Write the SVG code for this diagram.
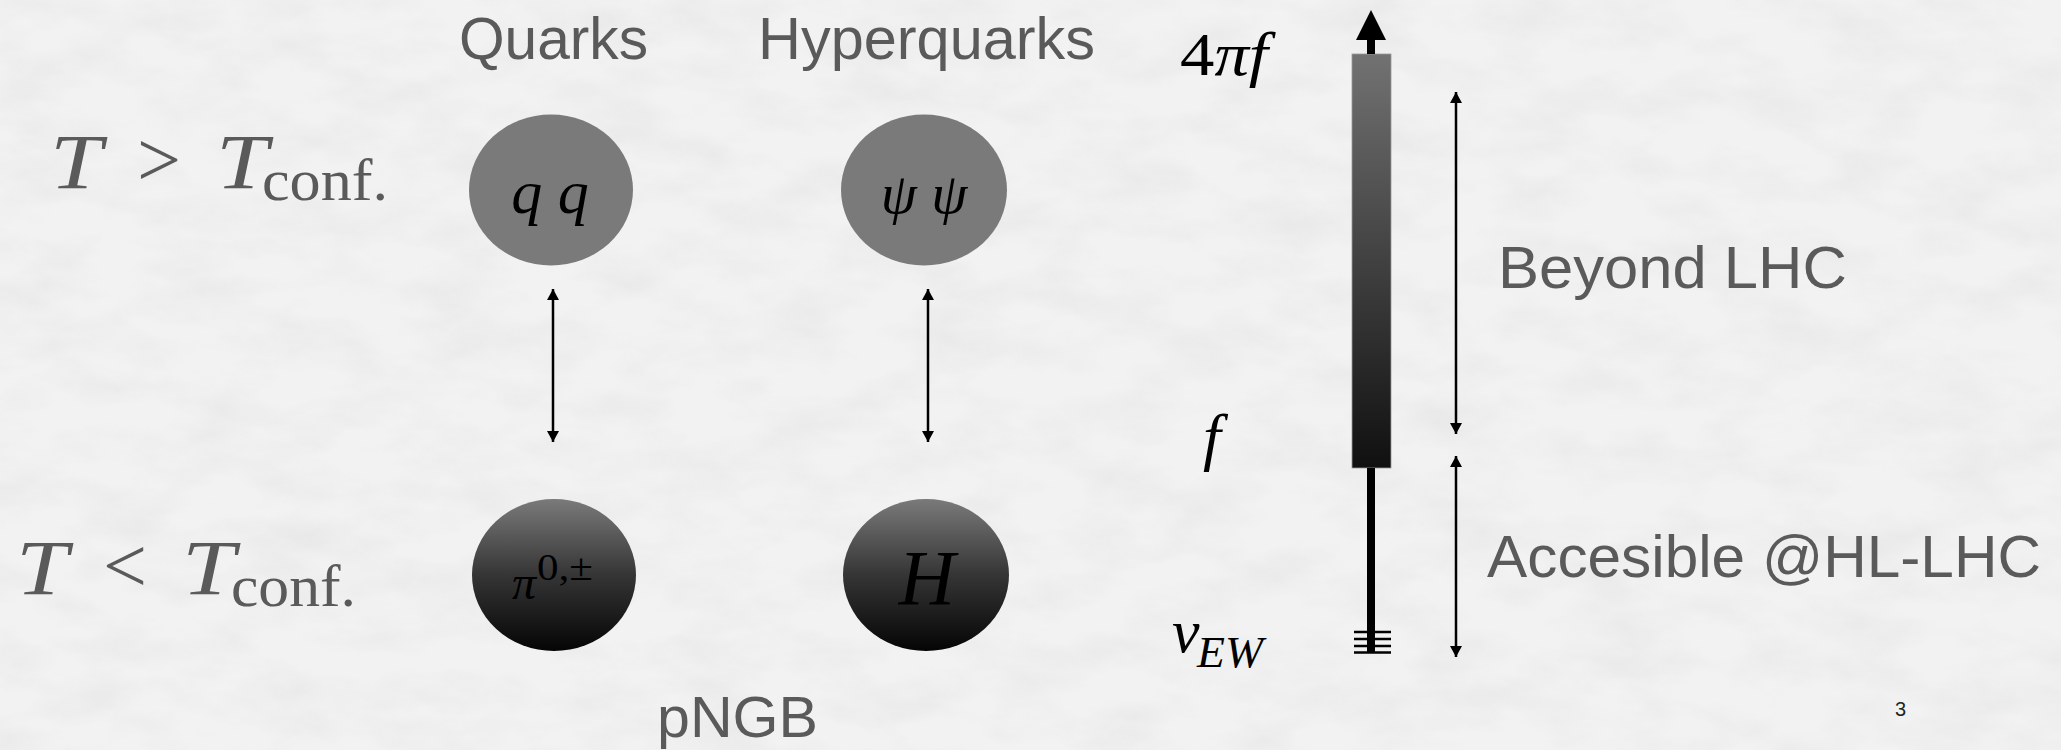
<svg xmlns="http://www.w3.org/2000/svg" width="2061" height="750" viewBox="0 0 2061 750">
<style>
.sans{font-family:"Liberation Sans",Arial,sans-serif;fill:#5a5a5a;}
.cm{font-family:"Liberation Serif","Times New Roman",serif;fill:#5a5a5a;}
.math{font-family:"Liberation Serif","Times New Roman",serif;fill:#000;font-style:italic;}
.rm{font-style:normal;}
.conn{stroke:#000;stroke-width:2.5;fill:none;marker-start:url(#ah);marker-end:url(#ah);}
.tick{stroke:#000;stroke-width:2.5;}
</style>
<defs>
<marker id="ah" viewBox="0 -6 11 12" refX="11" refY="0" markerWidth="11" markerHeight="12" markerUnits="userSpaceOnUse" orient="auto-start-reverse">
<path d="M0,-6 L11,0 L0,6 Z" fill="#000"/>
</marker>
<linearGradient id="dark" x1="0" y1="0" x2="0" y2="1">
<stop offset="0" stop-color="#7a7a7a"/>
<stop offset="0.5" stop-color="#353535"/>
<stop offset="1" stop-color="#050505"/>
</linearGradient>
<linearGradient id="bar" x1="0" y1="0" x2="0" y2="1">
<stop offset="0" stop-color="#727272"/>
<stop offset="1" stop-color="#101010"/>
</linearGradient>
<filter id="tex" x="0" y="0" width="100%" height="100%">
<feTurbulence type="fractalNoise" baseFrequency="0.012 0.025" numOctaves="4" seed="7"/>
<feColorMatrix type="matrix" values="0 0 0 0 0.45  0 0 0 0 0.45  0 0 0 0 0.45  0.9 0 0 0 -0.35"/>
</filter>
</defs>
<rect x="0" y="0" width="2061" height="750" fill="#f2f2f2"/>
<rect x="0" y="0" width="2061" height="750" filter="url(#tex)" opacity="0.3"/>

<g id="headers">
<text class="sans" x="459" y="59" font-size="59" textLength="189" lengthAdjust="spacingAndGlyphs">Quarks</text>
<text class="sans" x="758" y="59" font-size="59" textLength="337" lengthAdjust="spacingAndGlyphs">Hyperquarks</text>
</g>

<g id="label-high">
<text class="cm" x="50" y="188" font-size="78" font-style="italic" textLength="52" lengthAdjust="spacingAndGlyphs">T</text>
<text class="cm" x="159" y="186" font-size="78" text-anchor="middle">&gt;</text>
<text class="cm" x="216" y="188" font-size="78" font-style="italic" textLength="52" lengthAdjust="spacingAndGlyphs">T</text>
<text class="cm" x="262" y="200" font-size="60" textLength="126" lengthAdjust="spacingAndGlyphs">conf.</text>
</g>
<g id="label-low">
<text class="cm" x="16" y="594" font-size="78" font-style="italic" textLength="52" lengthAdjust="spacingAndGlyphs">T</text>
<text class="cm" x="125" y="592" font-size="78" text-anchor="middle">&lt;</text>
<text class="cm" x="182" y="594" font-size="78" font-style="italic" textLength="53" lengthAdjust="spacingAndGlyphs">T</text>
<text class="cm" x="231" y="606" font-size="60" textLength="125" lengthAdjust="spacingAndGlyphs">conf.</text>
</g>

<g id="node-qq">
<ellipse cx="551" cy="190" rx="82" ry="75.5" fill="#7a7a7a"/>
<text class="math" x="550" y="213" font-size="62" text-anchor="middle">q q</text>
</g>
<g id="node-psi">
<ellipse cx="924" cy="190" rx="83" ry="75.5" fill="#7a7a7a"/>
<text class="math" x="924" y="213" font-size="58" text-anchor="middle">ψ ψ</text>
</g>
<g id="node-pi">
<ellipse cx="554" cy="575" rx="82" ry="76" fill="url(#dark)"/>
<text class="math" x="512" y="599" font-size="48">π</text>
<text class="math rm" x="537" y="580" font-size="38" textLength="56" lengthAdjust="spacingAndGlyphs">0,±</text>
</g>
<g id="node-H">
<ellipse cx="926" cy="575" rx="83" ry="76" fill="url(#dark)"/>
<text class="math" x="927" y="604" font-size="78" text-anchor="middle">H</text>
</g>
<g id="label-pngb">
<text class="sans" x="657" y="737" font-size="58" textLength="161" lengthAdjust="spacingAndGlyphs">pNGB</text>
</g>

<g id="scale">
<rect x="1352" y="54" width="39" height="414" fill="url(#bar)" stroke="#999" stroke-width="0.8"/>
<rect x="1367" y="38" width="8" height="16" fill="#000"/>
<polygon points="1356,40 1386,40 1371,10" fill="#000"/>
<rect x="1367" y="468" width="8" height="185" fill="#000"/>
<line class="tick" x1="1354" y1="632" x2="1391" y2="632"/>
<line class="tick" x1="1354" y1="639" x2="1391" y2="639"/>
<line class="tick" x1="1354" y1="646" x2="1391" y2="646"/>
<line class="tick" x1="1354" y1="652.5" x2="1391" y2="652.5"/>
<text class="math" x="1180" y="75" font-size="62" textLength="88" lengthAdjust="spacingAndGlyphs"><tspan class="rm">4</tspan>πf</text>
<text class="math" x="1203" y="458" font-size="64">f</text>
<text class="math" x="1172" y="652" font-size="62">v</text>
<text class="math" x="1197" y="667" font-size="44" textLength="66" lengthAdjust="spacingAndGlyphs">EW</text>
</g>

<g id="ranges">
<text class="sans" x="1498" y="288" font-size="60" textLength="349" lengthAdjust="spacingAndGlyphs">Beyond LHC</text>
<text class="sans" x="1487" y="577" font-size="59" textLength="554" lengthAdjust="spacingAndGlyphs">Accesible @HL-LHC</text>
<text x="1895" y="716" font-size="20" font-family="Liberation Sans, Arial, sans-serif" fill="#222">3</text>
</g>

<g id="connectors">
<line class="conn" x1="553" y1="289" x2="553" y2="442"/>
<line class="conn" x1="928" y1="289" x2="928" y2="442"/>
<line class="conn" x1="1456" y1="92" x2="1456" y2="434"/>
<line class="conn" x1="1456" y1="456" x2="1456" y2="657"/>
</g>
</svg>
